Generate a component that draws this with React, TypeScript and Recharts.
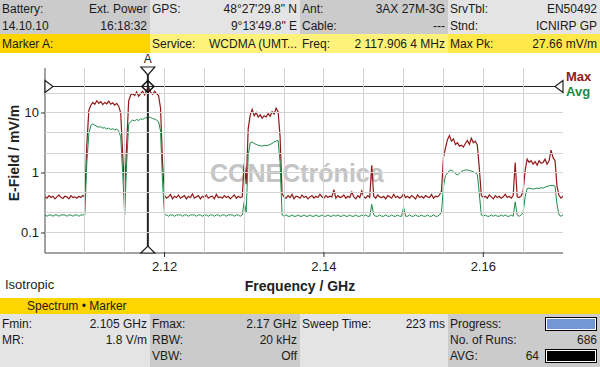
import { Line, LineChart, ReferenceDot, ReferenceLine, XAxis, YAxis } from 'recharts'
import type { ReactNode } from 'react'

// sweep: 2.105 GHz .. 2.17 GHz, one sample every 0.25 MHz
const freqStart = 2.105
const freqStep = 0.00025

// Max hold trace, mV/m
const maxTrace = [
  0.40, 0.38, 0.42, 0.39, 0.41, 0.37, 0.40, 0.43, 0.39, 0.38,
  0.41, 0.40, 0.37, 0.42, 0.39, 0.40, 0.38, 0.41, 0.39, 0.42,
  0.40, 3.0, 11.0, 13.5, 15.0, 14.0, 16.0, 14.5, 15.5, 13.8,
  15.0, 14.2, 15.8, 14.0, 14.8, 13.5, 14.5, 13.0, 10.0, 2.0,
  0.50, 3.0, 16.0, 20.0, 21.0, 19.5, 22.5, 19.0, 21.0, 23.0,
  20.0, 24.0, 27.5, 22.0, 20.5, 23.0, 21.0, 19.5, 12.0, 1.5,
  0.42, 0.38, 0.40, 0.44, 0.37, 0.41, 0.39, 0.43, 0.38, 0.40,
  0.42, 0.37, 0.41, 0.39, 0.45, 0.38, 0.40, 0.42, 0.37, 0.41,
  0.39, 0.43, 0.38, 0.40, 0.41, 0.37, 0.44, 0.39, 0.40, 0.38,
  0.42, 0.39, 0.41, 0.37, 0.40, 0.43, 0.38, 0.41, 0.39, 0.40,
  1.45, 0.65, 5.5, 9.2, 11.5, 9.0, 10.2, 8.5, 9.3, 8.2,
  9.0, 8.6, 9.8, 8.8, 10.5, 9.6, 12.0, 10.5, 4.0, 0.45,
  0.40, 0.38, 0.42, 0.39, 0.44, 0.37, 0.41, 0.40, 0.38, 0.43,
  0.39, 0.41, 0.37, 0.40, 0.42, 0.38, 0.41, 0.39, 0.44, 0.40,
  0.38, 0.42, 0.39, 0.41, 0.40, 0.53, 0.38, 0.42, 0.39, 0.40,
  0.43, 0.38, 0.41, 0.39, 0.48, 0.40, 0.37, 0.42, 0.39, 0.50,
  0.40, 0.38, 0.42, 0.39, 1.35, 0.41, 0.38, 0.43, 0.40, 0.39,
  0.41, 0.37, 0.42, 0.40, 0.38, 0.44, 0.39, 0.41, 0.38, 0.40,
  0.45, 0.39, 0.41, 0.38, 0.42, 0.40, 0.37, 0.43, 0.39, 0.41,
  0.38, 0.42, 0.40, 0.39, 0.44, 0.38, 0.41, 0.40, 0.43, 0.50,
  1.8, 2.6, 3.6, 4.2, 3.4, 3.7, 3.0, 3.2, 2.8, 2.9,
  2.7, 3.1, 3.5, 3.0, 3.8, 3.2, 3.4, 2.9, 1.2, 0.42,
  0.39, 0.41, 0.38, 0.43, 0.40, 0.37, 0.42, 0.39, 0.41, 0.38,
  0.40, 0.44, 0.39, 0.41, 0.38, 0.42, 1.50, 0.40, 0.39, 0.41,
  0.50, 1.1, 1.7, 1.5, 1.6, 1.4, 1.55, 1.35, 1.6, 1.45,
  1.5, 1.7, 1.4, 1.6, 2.4, 1.8, 1.6, 0.6, 0.42, 0.38,
  0.41,
]

// Average trace, mV/m
const avgTrace = [
  0.20, 0.19, 0.20, 0.20, 0.19, 0.20, 0.20, 0.19, 0.20, 0.20,
  0.20, 0.19, 0.20, 0.20, 0.19, 0.20, 0.20, 0.19, 0.20, 0.20,
  0.20, 1.5, 4.5, 6.2, 6.6, 6.3, 6.0, 5.8, 5.9, 5.6,
  5.7, 5.4, 5.6, 5.3, 5.5, 5.2, 5.4, 5.0, 4.0, 1.0,
  0.20, 1.5, 6.5, 7.2, 7.6, 7.4, 7.8, 7.5, 8.0, 7.8,
  8.2, 8.3, 8.6, 8.4, 8.1, 7.9, 7.6, 7.2, 5.0, 0.7,
  0.20, 0.20, 0.19, 0.20, 0.20, 0.19, 0.20, 0.20, 0.20, 0.19,
  0.20, 0.20, 0.19, 0.20, 0.20, 0.20, 0.19, 0.20, 0.20, 0.19,
  0.20, 0.20, 0.19, 0.20, 0.20, 0.19, 0.20, 0.20, 0.19, 0.20,
  0.20, 0.19, 0.20, 0.20, 0.20, 0.19, 0.20, 0.20, 0.19, 0.20,
  0.33, 0.22, 2.0, 3.2, 3.3, 3.1, 3.0, 2.9, 2.85, 2.8,
  2.9, 2.85, 2.9, 3.0, 3.1, 3.3, 3.4, 3.5, 1.5, 0.20,
  0.19, 0.20, 0.19, 0.19, 0.20, 0.19, 0.19, 0.20, 0.19, 0.19,
  0.20, 0.19, 0.19, 0.20, 0.19, 0.19, 0.20, 0.19, 0.19, 0.20,
  0.19, 0.19, 0.20, 0.19, 0.19, 0.20, 0.19, 0.20, 0.19, 0.19,
  0.20, 0.19, 0.19, 0.20, 0.19, 0.19, 0.20, 0.19, 0.19, 0.20,
  0.19, 0.20, 0.19, 0.19, 0.30, 0.20, 0.19, 0.19, 0.20, 0.19,
  0.19, 0.20, 0.19, 0.19, 0.20, 0.19, 0.19, 0.20, 0.19, 0.19,
  0.27, 0.19, 0.19, 0.20, 0.19, 0.19, 0.20, 0.19, 0.19, 0.20,
  0.19, 0.19, 0.20, 0.19, 0.19, 0.20, 0.19, 0.19, 0.20, 0.22,
  0.6, 0.9, 1.0, 1.1, 1.12, 1.05, 0.97, 0.93, 0.98, 1.06,
  1.1, 1.12, 1.12, 1.1, 1.08, 1.05, 1.0, 0.95, 0.45, 0.20,
  0.19, 0.20, 0.19, 0.19, 0.20, 0.19, 0.20, 0.19, 0.19, 0.20,
  0.19, 0.20, 0.19, 0.19, 0.20, 0.19, 0.33, 0.20, 0.19, 0.20,
  0.22, 0.4, 0.55, 0.56, 0.55, 0.54, 0.55, 0.56, 0.55, 0.57,
  0.56, 0.58, 0.60, 0.61, 0.62, 0.62, 0.60, 0.30, 0.20, 0.19,
  0.20,
]

const freqTicks = [2.105, 2.11, 2.115, 2.12, 2.125, 2.13, 2.135, 2.14, 2.145, 2.15, 2.155, 2.16, 2.165, 2.17]
const freqLabels = [2.12, 2.14, 2.16]
const fieldTicks = [0.0464, 0.1, 0.2154, 0.4642, 1, 2.154, 4.642, 10, 21.54]
const fieldLabels = [0.1, 1, 10]
const fieldMin = 0.0464
const fieldMax = 56.23

const markerFreq = 2.1179064
const maxPk = 27.66

const headerRow1 = [['Battery:', 'Ext. Power'], ['GPS:', '48°27\'29.8" N'], ['Ant:', '3AX 27M-3G'], ['SrvTbl:', 'EN50492']]
const headerRow2 = [['14.10.10', '16:18:32'], ['', '9°13\'49.8" E'], ['Cable:', '---'], ['Stnd:', 'ICNIRP GP']]
const markerRow = [['Marker A:', ''], ['Service:', 'WCDMA (UMT...'], ['Freq:', '2 117.906 4 MHz'], ['Max Pk:', '27.66 mV/m']]
const footRow1 = [['Fmin:', '2.105 GHz'], ['Fmax:', '2.17 GHz'], ['Sweep Time:', '223 ms'], ['Progress:', '']]
const footRow2 = [['MR:', '1.8 V/m'], ['RBW:', '20 kHz'], ['', ''], ['No. of Runs:', '686']]
const footRow3 = [['', ''], ['VBW:', 'Off'], ['', ''], ['AVG:', '64']]

const font = "'Liberation Sans', Arial, sans-serif"
const cols = [
  { x: 0, w: 150 },
  { x: 150, w: 150 },
  { x: 300, w: 148 },
  { x: 448, w: 152 },
]
const greyDark = '#cbcbcb'
const greyLight = '#e4e4e4'
const gridColor = '#d2d2d2'
const maxColor = '#921919'
const avgColor = '#1d8a47'

// chart box
const chartW = 600
const chartH = 245
const margin = { top: 15, right: 37, bottom: 0, left: 0 }
const xAxisH = 45
const yAxisW = 45
const plotW = chartW - margin.left - margin.right - yAxisW
const plotH = chartH - margin.top - margin.bottom - xAxisH

const chartData = maxTrace.map((v, i) => ({
  f: +(freqStart + i * freqStep).toFixed(5),
  max: v,
  avg: avgTrace[i],
}))

function Bar({ fill }: { fill: string }) {
  return (
    <span style={{ display: 'inline-block', width: 48, height: 10, border: '1px solid #000', padding: 1, background: '#fff', verticalAlign: 'middle' }}>
      <span style={{ display: 'block', width: '100%', height: '100%', background: fill }} />
    </span>
  )
}

function InfoRow({ cells, top, height, colors, extra }: { cells: string[][]; top: number; height: number; colors: string[]; extra?: (ReactNode | null)[] }) {
  return (
    <>
      {cells.map(([l, r], k) => (
        <div
          key={k}
          style={{
            position: 'absolute', left: cols[k].x, top, width: cols[k].w, height,
            background: colors[k], display: 'flex', justifyContent: 'space-between', alignItems: 'center',
            padding: '0 3px 0 2px', boxSizing: 'border-box', fontSize: 12, whiteSpace: 'nowrap', color: '#1a1a1a',
          }}
        >
          <span>{l}</span>
          <span>
            {r}
            {extra && extra[k]}
          </span>
        </div>
      ))}
    </>
  )
}

// bottom axis tick: grid line up through the plot, tick mark + label on the labelled ones
function FreqTick(props: any) {
  const { x, y, payload } = props
  const edge = payload.value === freqTicks[0] || payload.value === freqTicks[freqTicks.length - 1]
  const labelled = freqLabels.includes(payload.value)
  return (
    <g>
      {!edge && <line x1={x} x2={x} y1={y - plotH} y2={y} stroke={gridColor} shapeRendering='crispEdges' />}
      {labelled && <line x1={x} x2={x} y1={y - 1} y2={y + 4} stroke='#333' />}
      {labelled && (
        <text x={x} y={y + 18} textAnchor='middle' fontSize={13} fill='#222' fontFamily={font}>
          {payload.value}
        </text>
      )}
    </g>
  )
}

// left axis tick: grid line across the plot, tick mark + label on the decades
function FieldTick(props: any) {
  const { x, y, payload } = props
  const edge = payload.value === fieldTicks[0]
  const labelled = fieldLabels.includes(payload.value)
  return (
    <g>
      {!edge && <line x1={x} x2={x + plotW} y1={y} y2={y} stroke={gridColor} shapeRendering='crispEdges' />}
      {labelled && <line x1={x - 4} x2={x} y1={y} y2={y} stroke='#333' />}
      {labelled && (
        <text x={x - 6} y={y + 4.5} textAnchor='end' fontSize={13} fill='#222' fontFamily={font}>
          {payload.value}
        </text>
      )}
    </g>
  )
}

const tri = (pts: string) => <polygon points={pts} fill='#fff' stroke='#222' strokeWidth={1.2} />

function MarkerTop({ cx, cy }: any) {
  return (
    <g>
      <text x={cx} y={cy - 5} textAnchor='middle' fontSize={12} fill='#222' fontFamily={font}>A</text>
      {tri(`${cx - 7},${cy - 1} ${cx + 7},${cy - 1} ${cx},${cy + 7}`)}
    </g>
  )
}
function MarkerBottom({ cx, cy }: any) {
  return tri(`${cx - 7},${cy} ${cx + 7},${cy} ${cx},${cy - 7}`)
}
function LevelLeft({ cx, cy }: any) {
  return tri(`${cx},${cy - 6} ${cx},${cy + 6} ${cx + 8},${cy}`)
}
function LevelRight({ cx, cy }: any) {
  return tri(`${cx},${cy - 6} ${cx},${cy + 6} ${cx - 8},${cy}`)
}
function PeakDiamond({ cx, cy }: any) {
  return <polygon points={`${cx},${cy - 6} ${cx + 6},${cy} ${cx},${cy + 6} ${cx - 6},${cy}`} fill='none' stroke='#111' strokeWidth={1.5} />
}

export default function App() {
  return (
    <div style={{ position: 'absolute', left: 0, top: 0, width: 600, height: 367, background: '#fff', fontFamily: font, overflow: 'hidden' }}>
      <InfoRow cells={headerRow1} top={0} height={17} colors={[greyDark, greyLight, greyDark, greyLight]} />
      <InfoRow cells={headerRow2} top={17} height={17} colors={[greyDark, greyLight, greyDark, greyLight]} />
      <InfoRow cells={markerRow} top={34} height={19} colors={['#ffd500', '#fff27a', '#fff27a', '#ffe84a']} />

      <div style={{ position: 'absolute', left: 210, top: 161, fontSize: 25, fontWeight: 'bold', color: '#c4c4c4', lineHeight: '25px', whiteSpace: 'nowrap' }}>
        CONECtrónica
      </div>

      <div style={{ position: 'absolute', left: 0, top: 53 }}>
        <LineChart width={chartW} height={chartH} data={chartData} margin={margin}>
          <XAxis
            dataKey='f' type='number' domain={[freqStart, 2.17]} ticks={freqTicks} interval={0} allowDataOverflow
            tick={<FreqTick />} tickLine={false} tickSize={0} tickMargin={0} axisLine={{ stroke: '#444' }} height={xAxisH}
          />
          <XAxis xAxisId='top' orientation='top' type='number' domain={[0, 1]} tick={false} tickLine={false} axisLine={{ stroke: '#444' }} height={0} />
          <YAxis
            type='number' scale='log' domain={[fieldMin, fieldMax]} ticks={fieldTicks} interval={0} allowDataOverflow
            tick={<FieldTick />} tickLine={false} tickSize={0} tickMargin={0} axisLine={{ stroke: '#444' }} width={yAxisW}
          />
          <YAxis yAxisId='right' orientation='right' type='number' domain={[0, 1]} tick={false} tickLine={false} axisLine={{ stroke: '#444' }} width={0} />
          <Line type='linear' dataKey='max' stroke={maxColor} strokeWidth={1.2} dot={false} isAnimationActive={false} />
          <Line type='linear' dataKey='avg' stroke={avgColor} strokeWidth={1} dot={false} isAnimationActive={false} />
          <ReferenceLine y={maxPk} stroke='#222' strokeWidth={1} />
          <ReferenceLine x={markerFreq} stroke='#222' strokeWidth={2} />
          <ReferenceDot x={markerFreq} y={maxPk} r={6} shape={PeakDiamond} ifOverflow='visible' />
          <ReferenceDot x={markerFreq} y={fieldMax} r={6} shape={MarkerTop} ifOverflow='visible' />
          <ReferenceDot x={markerFreq} y={fieldMin} r={6} shape={MarkerBottom} ifOverflow='visible' />
          <ReferenceDot x={freqStart} y={maxPk} r={6} shape={LevelLeft} ifOverflow='visible' />
          <ReferenceDot x={2.17} y={maxPk} r={6} shape={LevelRight} ifOverflow='visible' />
        </LineChart>
      </div>

      <div style={{ position: 'absolute', left: 566, top: 69, fontSize: 13, fontWeight: 'bold', lineHeight: '15px' }}>
        <div style={{ color: maxColor }}>Max</div>
        <div style={{ color: avgColor }}>Avg</div>
      </div>

      <div style={{ position: 'absolute', left: 13.5, top: 153, width: 0, height: 0 }}>
        <div style={{ position: 'absolute', transform: 'translate(-50%, -50%) rotate(-90deg)', fontSize: 14, fontWeight: 'bold', whiteSpace: 'nowrap', color: '#222', lineHeight: '16px' }}>
          E-Field / mV/m
        </div>
      </div>
      <div style={{ position: 'absolute', left: 300, top: 286, transform: 'translate(-50%, -50%)', fontSize: 14, fontWeight: 'bold', whiteSpace: 'nowrap', color: '#222', lineHeight: '16px' }}>
        Frequency / GHz
      </div>
      <div style={{ position: 'absolute', left: 5, top: 277, fontSize: 13, lineHeight: '16px', color: '#222' }}>Isotropic</div>

      <div style={{ position: 'absolute', left: 0, top: 298, width: 600, height: 16, background: '#ffd500', fontSize: 12, lineHeight: '16px', paddingLeft: 27, boxSizing: 'border-box', color: '#1a1a1a' }}>
        Spectrum • Marker
      </div>
      <div style={{ position: 'absolute', left: 0, top: 314, width: 600, height: 53, background: greyLight }} />
      <div style={{ position: 'absolute', left: 150, top: 314, width: 150, height: 53, background: greyDark }} />
      <div style={{ position: 'absolute', left: 448, top: 314, width: 152, height: 53, background: greyDark }} />
      <InfoRow cells={footRow1} top={316} height={16} colors={['transparent', 'transparent', 'transparent', 'transparent']} extra={[null, null, null, <Bar key='p' fill='#7496d6' />]} />
      <InfoRow cells={footRow2} top={332} height={16} colors={['transparent', 'transparent', 'transparent', 'transparent']} />
      <InfoRow cells={footRow3} top={348} height={16} colors={['transparent', 'transparent', 'transparent', 'transparent']} extra={[null, null, null, <span key='a' style={{ marginLeft: 6 }}><Bar fill='#000' /></span>]} />
    </div>
  )
}
